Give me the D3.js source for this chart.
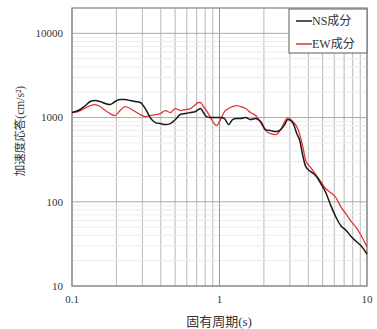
<!DOCTYPE html>
<html>
<head>
<meta charset="utf-8">
<script src="https://cdn.jsdelivr.net/npm/d3@7.9.0/dist/d3.min.js"></script>
<style>
  body { margin: 0; background: #fff; }
  svg { display: block; font-family: "Liberation Serif", "Noto Sans CJK JP", serif; }
</style>
</head>
<body>
<svg id="chart" width="377" height="329"></svg>
<script>
// natural period (s)
const periods = [0.1, 0.11, 0.121, 0.133, 0.143, 0.155, 0.168, 0.181, 0.196, 0.212,
  0.229, 0.248, 0.268, 0.29, 0.314, 0.339, 0.367, 0.397, 0.429, 0.464,
  0.502, 0.543, 0.587, 0.635, 0.687, 0.72, 0.743, 0.778, 0.816, 0.869,
  0.91, 0.954, 1.016, 1.081, 1.151, 1.226, 1.305, 1.389, 1.503, 1.625,
  1.758, 1.901, 2.056, 2.223, 2.404, 2.6, 2.768, 2.901, 3.041, 3.187,
  3.34, 3.502, 3.67, 3.846, 4.159, 4.498, 4.864, 5.261, 5.689, 6.153,
  6.654, 7.196, 7.782, 8.416, 9.104, 10];

// NS component (cm/s^2)
const nsValues = [1147, 1212, 1352, 1550, 1594, 1550, 1468, 1428, 1550, 1638,
  1638, 1594, 1550, 1509, 1280, 1000, 872, 848, 825, 848,
  947, 1086, 1116, 1147, 1179, 1245, 1280, 1147, 1028, 1000,
  1000, 1000, 1000, 973, 825, 947, 973, 973, 1000, 947,
  973, 896, 720, 700, 681, 720, 825, 947, 921, 825,
  645, 532, 353, 261, 228, 204, 164, 128, 90, 66,
  52, 46, 39, 34, 30, 24];

// EW component (cm/s^2)
const ewValues = [1147, 1179, 1280, 1389, 1428, 1352, 1212, 1116, 1056, 1212,
  1352, 1280, 1179, 1086, 1028, 1056, 1086, 1116, 1212, 1147,
  1280, 1212, 1245, 1280, 1428, 1509, 1509, 1352, 1212, 1000,
  872, 803, 947, 1179, 1280, 1352, 1389, 1352, 1280, 1147,
  1056, 872, 700, 645, 628, 720, 896, 1000, 947, 872,
  781, 628, 452, 308, 254, 210, 173, 143, 128, 112,
  87, 72, 59, 50, 40, 29];

const seriesNames = ['NS成分', 'EW成分'];
const seriesColors = ['#1a1a1a', '#e0353a'];
const yTicks = [10, 100, 1000, 10000];
const xTicks = [0.1, 1, 10];

const svg = d3.select('#chart');
const margin = { top: 8, right: 10, bottom: 43, left: 72 };
const width = 377 - margin.left - margin.right;
const height = 329 - margin.top - margin.bottom;

const g = svg.append('g').attr('transform', `translate(${margin.left},${margin.top})`);

const x = d3.scaleLog().domain([0.1, 10]).range([0, width]);
const y = d3.scaleLog().domain([10, 20000]).range([height, 0]);

// grid: minor lines first, then the decades
const xMinor = x.ticks().filter(d => !xTicks.includes(d));
const yMinor = y.ticks().filter(d => !yTicks.includes(d) && d <= 20000);

g.selectAll('.vminor')
  .data(xMinor)
  .enter()
  .append('line')
  .attr('x1', d => x(d)).attr('x2', d => x(d))
  .attr('y1', 0).attr('y2', height)
  .attr('stroke', '#b8b8b8')
  .attr('stroke-width', 1);

g.selectAll('.hminor')
  .data(yMinor)
  .enter()
  .append('line')
  .attr('x1', 0).attr('x2', width)
  .attr('y1', d => y(d)).attr('y2', d => y(d))
  .attr('stroke', '#ececec')
  .attr('stroke-width', 1);

g.selectAll('.vmajor')
  .data(xTicks)
  .enter()
  .append('line')
  .attr('x1', d => x(d)).attr('x2', d => x(d))
  .attr('y1', 0).attr('y2', height)
  .attr('stroke', '#999')
  .attr('stroke-width', 1);

g.selectAll('.hmajor')
  .data(yTicks)
  .enter()
  .append('line')
  .attr('x1', 0).attr('x2', width)
  .attr('y1', d => y(d)).attr('y2', d => y(d))
  .attr('stroke', '#aaa')
  .attr('stroke-width', 1);

// plot frame
g.append('rect')
  .attr('width', width).attr('height', height)
  .attr('fill', 'none')
  .attr('stroke', '#888')
  .attr('stroke-width', 1.2);

// curves
const line = d3.line()
  .x(d => x(d[0]))
  .y(d => y(d[1]))
  .curve(d3.curveMonotoneX);

[ewValues, nsValues].forEach((vals, i) => {
  const idx = i === 0 ? 1 : 0;
  g.append('path')
    .datum(periods.map((p, k) => [p, vals[k]]))
    .attr('fill', 'none')
    .attr('stroke', seriesColors[idx])
    .attr('stroke-width', idx === 0 ? 1.5 : 1.3)
    .attr('d', line);
});

// tick labels
g.selectAll('.ylab')
  .data(yTicks)
  .enter()
  .append('text')
  .attr('x', -9)
  .attr('y', d => y(d))
  .attr('dy', '0.35em')
  .attr('text-anchor', 'end')
  .attr('font-size', 11)
  .attr('fill', '#333')
  .text(d => d);

g.selectAll('.xlab')
  .data(xTicks)
  .enter()
  .append('text')
  .attr('x', d => x(d))
  .attr('y', height + 17)
  .attr('text-anchor', 'middle')
  .attr('font-size', 11)
  .attr('fill', '#333')
  .text(d => d);

// axis titles
svg.append('text')
  .attr('x', 219)
  .attr('y', 326)
  .attr('text-anchor', 'middle')
  .attr('font-size', 13)
  .attr('fill', '#333')
  .text('固有周期(s)');

svg.append('text')
  .attr('transform', 'translate(24,131) rotate(-90)')
  .attr('text-anchor', 'middle')
  .attr('font-size', 11.5)
  .attr('fill', '#333')
  .text('加速度応答(cm/s²)');

// legend
const legend = g.append('g').attr('transform', `translate(${width - 78},1)`);
legend.append('rect')
  .attr('width', 78).attr('height', 44)
  .attr('fill', '#fff')
  .attr('stroke', '#777')
  .attr('stroke-width', 1.2);

seriesNames.forEach((name, i) => {
  const ly = 12 + i * 23;
  legend.append('line')
    .attr('x1', 7).attr('x2', 23)
    .attr('y1', ly).attr('y2', ly)
    .attr('stroke', seriesColors[i])
    .attr('stroke-width', 1.5);
  legend.append('text')
    .attr('x', 23)
    .attr('y', ly)
    .attr('dy', '0.35em')
    .attr('font-size', 12)
    .attr('fill', '#333')
    .text(name);
});
</script>
</body>
</html>
